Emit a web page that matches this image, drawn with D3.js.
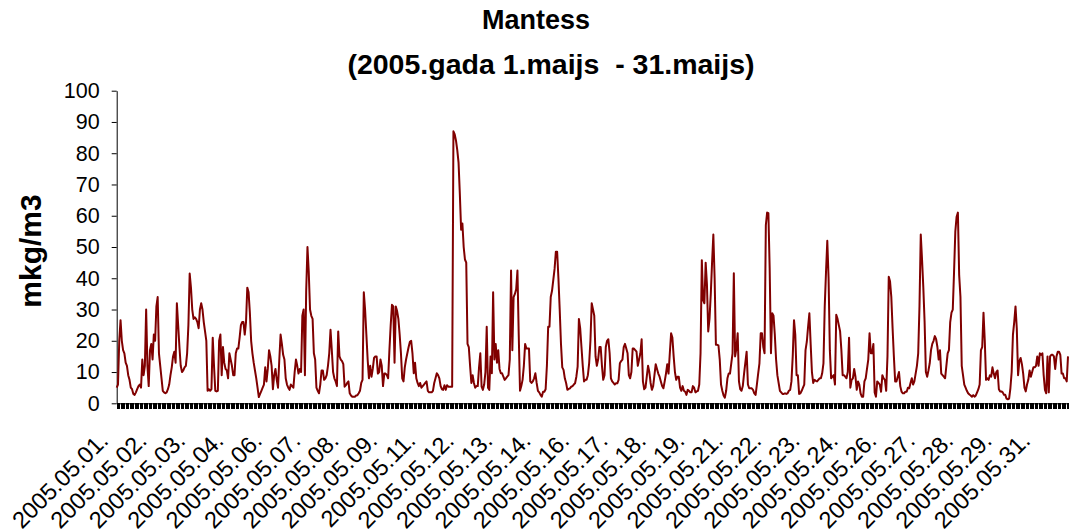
<!DOCTYPE html>
<html>
<head>
<meta charset="utf-8">
<script src="https://cdn.jsdelivr.net/npm/d3@7"></script>
<style>
  body { margin: 0; background: #fff; }
  text { font-family: "Liberation Sans", Arial, sans-serif; }
</style>
</head>
<body>
<div id="chart"></div>
<script>
// hourly values, one row per day (00:00 .. 23:00)
const days = ["2005.05.01.", "2005.05.02.", "2005.05.03.", "2005.05.04.", "2005.05.05.", "2005.05.06.",
    "2005.05.07.", "2005.05.08.", "2005.05.09.", "2005.05.10.", "2005.05.11.", "2005.05.12.",
    "2005.05.13.", "2005.05.14.", "2005.05.15.", "2005.05.16.", "2005.05.17.", "2005.05.18.",
    "2005.05.19.", "2005.05.20.", "2005.05.21.", "2005.05.22.", "2005.05.23.", "2005.05.24.",
    "2005.05.25.", "2005.05.26.", "2005.05.27.", "2005.05.28.", "2005.05.29.", "2005.05.30.",
    "2005.05.31."];

const hourly = [
    [5, 6, 20, 26.6, 20, 17, 16, 13, 12, 9, 7.5, 5, 4.5, 3, 2.7, 3.5, 4.5, 5.5, 6, 5, 14, 9, 12, 30],
    [12, 5.5, 17, 19, 14, 22, 20, 31, 34, 16, 12, 8, 4, 3.5, 3.2, 3.5, 4.5, 6, 9, 11.5, 15, 16.5, 13, 32],
    [25, 18, 12, 10, 10.5, 11.5, 12, 16, 25, 41.5, 37, 30, 27, 27.5, 27, 26, 24, 30, 32, 30, 26, 23, 20, 4],
    [4.5, 4, 4.5, 21, 12, 4, 3.8, 4, 20, 22, 9, 18, 13, 11, 10.5, 8, 16, 14, 12, 9, 9, 16, 17.5, 17.5],
    [21, 25, 26, 26, 22, 26, 37, 35.5, 29, 20, 16, 13, 10.5, 8, 5, 2, 3, 4, 5, 6, 11.5, 7, 11, 17],
    [15, 12, 4.5, 9, 11, 7.5, 5, 14, 22, 19, 15.5, 14, 8, 6, 5, 4.3, 6, 5.5, 5, 10, 14, 12, 9.5, 11],
    [10, 28, 30, 9, 36, 50, 42, 30, 28, 27, 16, 14, 5, 4, 3.2, 6, 10.5, 10.5, 7.5, 8, 9, 12, 16, 23.5],
    [17, 10, 8, 7, 5.5, 23, 15, 14, 13.5, 12.5, 5.3, 5.8, 6.5, 7, 3.2, 2.5, 2.1, 2.1, 2.1, 2.5, 2.6, 3.2, 4, 6.5],
    [7.5, 35.5, 30, 22, 14, 8, 12, 8.5, 11, 14.5, 15, 15, 9.5, 10, 14, 12, 5.5, 9.5, 9.5, 9, 8, 17, 25, 31.5],
    [31, 13, 31, 29.5, 27, 22, 16, 8, 7, 11.5, 14, 16, 18, 19.7, 20, 16, 9.6, 13, 8, 6.5, 5.5, 6.5, 5, 5.5],
    [6, 6.5, 7, 4, 3.5, 3.5, 3.5, 4, 6.5, 8, 9.6, 9, 8, 5.5, 4.5, 4.3, 5.8, 4.3, 5.8, 5.3, 5.3, 5.3, 5.3, 87],
    [86, 84, 81, 77, 67, 55.5, 57.5, 50, 46, 45, 19, 18, 12, 6.5, 9, 6.5, 5, 5.5, 5.5, 11.5, 16, 5.3, 4.3, 6],
    [10, 24.5, 5, 4.3, 15, 9.6, 35.5, 14, 19, 13, 17, 11, 9.6, 9.6, 8.5, 7.5, 8, 8.5, 9, 14, 42.5, 17, 34, 35],
    [36.5, 42.5, 22, 4, 5.5, 7.5, 12, 19, 17.5, 17.5, 17.5, 7, 6.5, 7, 8, 9.6, 6.5, 4, 3.5, 2.7, 2.1, 3.7, 3.7, 4.5],
    [12, 24.5, 24.5, 34, 36, 39.5, 43, 48.5, 48.5, 40, 30, 19, 11.5, 10.7, 8, 6.5, 4.3, 4.6, 4.8, 5.3, 5.5, 6, 6.4, 8.5],
    [11.7, 27, 24, 18, 12, 7, 7.5, 7.5, 9, 12.8, 20, 32, 30, 28, 15, 12, 14, 18, 18, 12, 7.5, 9, 18, 20],
    [20.5, 16, 8, 7, 6.5, 6, 6.4, 6.4, 7.5, 12.8, 13.5, 14, 18, 19, 17.5, 16, 9, 8, 10, 17.5, 17.5, 17, 16.5, 12],
    [14, 16, 20.5, 7, 4.5, 5, 8.5, 12, 10, 6.5, 4.3, 5.5, 9, 12.5, 11, 9.5, 8.5, 7, 5.5, 4.8, 7, 9.5, 12.5, 9.5],
    [16, 22.4, 21, 15, 10, 7.5, 8.5, 8.5, 5, 4, 5.5, 4, 3.7, 2.7, 4.3, 4, 3.5, 3.5, 5.5, 5, 3.5, 3.8, 4, 6],
    [16, 45.8, 33, 32, 45, 38, 23, 27, 35, 45, 54, 40, 18.7, 18.7, 18.5, 14, 6, 4, 2.5, 1.8, 4, 8, 9.5, 9.5],
    [12.8, 16, 41.6, 15, 17.5, 22.4, 7, 4.5, 4, 5.5, 9.5, 13, 16.5, 6, 4.8, 4.8, 4.8, 4.3, 3.2, 2.7, 6, 9.5, 12.8, 22.4],
    [22.4, 18, 16, 57, 61, 60.8, 43, 16, 28.8, 28, 22, 14, 9, 6.5, 4, 3.5, 3, 3, 3.2, 3, 3.2, 4, 4.3, 7],
    [15, 26.6, 22, 9, 9, 3, 3.2, 4, 5, 6, 17, 19.7, 24.5, 28.8, 19, 10, 6.5, 7.5, 7.2, 7, 7.5, 8, 8, 9.6],
    [12.8, 31, 42, 52, 40, 17, 8, 8.5, 9, 6, 28.3, 27, 25, 23, 17, 9, 9, 8.5, 8, 10, 21, 5, 7.5, 8],
    [11, 8.5, 4.3, 7, 6, 3.2, 2.1, 2.1, 7, 8, 11, 14, 22.4, 16, 16, 19, 3.5, 2.1, 7, 6.5, 6, 3.7, 9, 8],
    [7.5, 4, 15, 40.5, 39, 34, 24, 15, 7, 7, 8.5, 10, 5.5, 3.7, 3.2, 3.2, 3.7, 3.7, 5, 4.8, 6.5, 8, 6, 7],
    [9.5, 12, 16, 31, 54, 46, 37, 26, 10, 8.5, 10.5, 12.8, 17, 19, 20, 21.5, 20.5, 18, 14, 17, 9.5, 9, 8.5, 8],
    [12, 16, 17, 26, 29, 30, 42, 55, 59.7, 61, 41, 34, 12, 9, 6, 5, 4, 3.2, 2.8, 2.5, 2.1, 2.6, 2.1, 2.5],
    [3.5, 4.5, 6, 17, 18, 29, 20, 7.5, 8, 7.5, 9, 8.5, 11.5, 9.5, 8, 10, 10.5, 4.5, 3.8, 3.8, 3.5, 2.7, 2.7, 1.5],
    [1.3, 1.5, 4.8, 10, 22, 26, 31, 24, 9, 13.5, 14.5, 12.5, 9.5, 5, 3.8, 6, 7.5, 10.5, 8.5, 10, 11.5, 11.5, 12, 15],
    [12, 16, 15.5, 16, 9, 4.3, 3.2, 15, 3.5, 15, 15.5, 15.5, 15, 11, 15, 16.5, 16.5, 15.5, 9.5, 9.5, 8, 8, 7, 15]
];

const yTicks = [0, 10, 20, 30, 40, 50, 60, 70, 80, 90, 100];
const labelEvery = 30; // a category label every 30 hours

// flatten into one point per hour, category = date of that hour
var data = [];
hourly.forEach(function (row, di) {
    row.forEach(function (v, h) {
        data.push({ i: data.length, day: days[di], value: v });
    });
});

var width = 1069, height = 531;
var plot = { left: 116.7, right: 1068, top: 90.7, bottom: 403.3 };

var svg = d3.select("#chart").append("svg")
    .attr("width", width)
    .attr("height", height);

var x = d3.scalePoint()
    .domain(data.map(function (d) { return d.i; }))
    .range([plot.left, plot.right]);

var y = d3.scaleLinear()
    .domain([0, 100])
    .range([plot.bottom, plot.top]);

// y axis
var yAxis = svg.append("g")
    .attr("transform", "translate(" + plot.left + ",0)")
    .call(d3.axisLeft(y).tickValues(yTicks).tickSize(5).tickPadding(12).tickSizeOuter(0));
yAxis.select(".domain").attr("stroke", "#000").attr("stroke-width", 1);
yAxis.selectAll("text")
    .style("font-size", "21.5px")
    .style("fill", "#000");

// x axis, a tick under every hour
var xAxis = svg.append("g")
    .attr("transform", "translate(0," + plot.bottom + ")")
    .call(d3.axisBottom(x).tickSize(6).tickSizeOuter(0).tickFormat(""));
xAxis.select(".domain").attr("stroke", "#000").attr("stroke-width", 1);
xAxis.selectAll(".tick line")
    .attr("stroke", "#000")
    .attr("stroke-width", 1)
    .attr("shape-rendering", "crispEdges");

// rotated date labels
var labelled = data.filter(function (d) { return d.i % labelEvery === 0; });
svg.append("g").selectAll("text")
    .data(labelled)
    .enter().append("text")
    .attr("transform", function (d) {
        return "translate(" + (x(d.i) - 7) + "," + 442 + ") rotate(-45)";
    })
    .attr("text-anchor", "end")
    .style("font-size", "23.5px")
    .style("fill", "#000")
    .text(function (d) { return d.day; });

// the series
var line = d3.line()
    .x(function (d) { return x(d.i); })
    .y(function (d) { return y(d.value); });

svg.append("path")
    .datum(data)
    .attr("fill", "none")
    .attr("stroke", "#800000")
    .attr("stroke-width", 2)
    .attr("stroke-linejoin", "round")
    .attr("d", line);

// titles
svg.append("text")
    .attr("x", 536).attr("y", 29)
    .attr("text-anchor", "middle")
    .style("font-size", "27px").style("font-weight", "bold")
    .text("Mantess");

svg.append("text")
    .attr("x", 551).attr("y", 74)
    .attr("text-anchor", "middle")
    .style("font-size", "28.5px").style("font-weight", "bold")
    .style("white-space", "pre")
    .text("(2005.gada 1.maijs  - 31.maijs)");

svg.append("text")
    .attr("transform", "translate(41,251) rotate(-90)")
    .attr("text-anchor", "middle")
    .style("font-size", "30px").style("font-weight", "bold")
    .text("mkg/m3");
</script>
</body>
</html>
